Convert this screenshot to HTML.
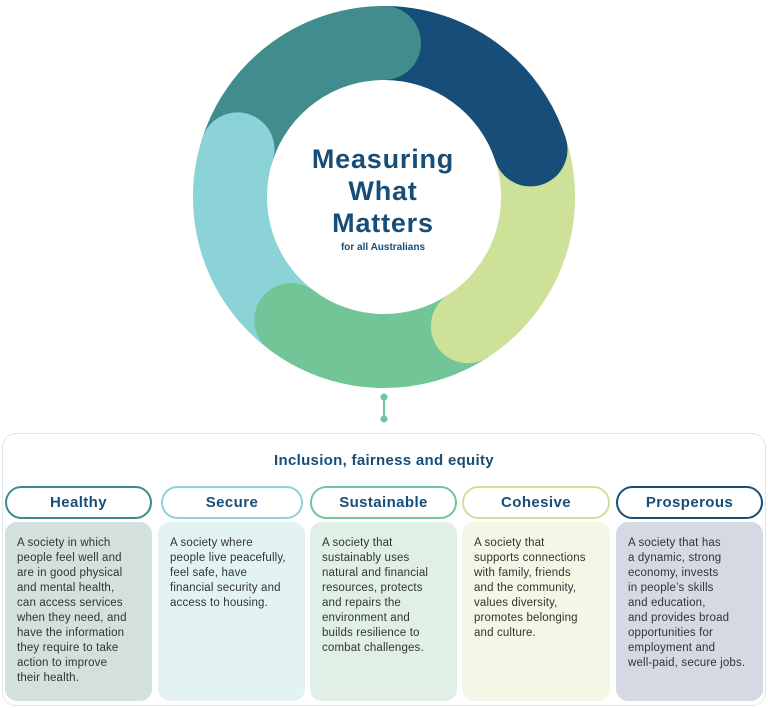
<!DOCTYPE html>
<html><head><meta charset="utf-8"><style>
*{margin:0;padding:0;box-sizing:border-box}
body{width:768px;height:708px;background:#fff;font-family:"Liberation Sans",sans-serif;position:relative;overflow:hidden}
.abs{position:absolute}
.container{left:2px;top:433px;width:764px;height:273px;border:1.5px solid #dde6ea;border-radius:14px}
.title{left:0;width:768px;top:452px;text-align:center;font-weight:bold;font-size:15px;color:#174E79;letter-spacing:0.3px}
.pill{top:486px;height:33px;border:2px solid;border-radius:17px;text-align:center;font-weight:bold;font-size:15px;color:#174E79;line-height:29px;background:#fff;letter-spacing:0.4px}
.box{top:522px;height:179px;border-radius:12px;padding:14px 0 0 12px;font-size:11.5px;line-height:15px;color:#333;white-space:nowrap;letter-spacing:0.15px}
</style></head><body>
<svg class="abs" style="left:0;top:0" width="768" height="430">
<g fill="none" stroke-width="74">
<path d="M237.5,149.4 A154,154 0 0 1 384,43" stroke="#418C8C"/>
<path d="M291.3,320 A154,154 0 0 1 237.5,149.4" stroke="#8BD3D6"/>
<path d="M467.9,326.2 A154,154 0 0 1 291.3,320" stroke="#72C597"/>
<path d="M530.5,149.4 A154,154 0 0 1 467.9,326.2" stroke="#CDE198"/>
<path d="M384,43 A154,154 0 0 1 530.5,149.4" stroke="#174E79"/>
</g>
<circle cx="237.5" cy="149.4" r="37" fill="#8BD3D6"/>
<circle cx="291.3" cy="320" r="37" fill="#72C597"/>
<circle cx="467.9" cy="326.2" r="37" fill="#CDE198"/>
<circle cx="530.5" cy="149.4" r="37" fill="#174E79"/>
<circle cx="384" cy="43" r="37" fill="#418C8C"/>
<line x1="384" y1="397" x2="384" y2="419" stroke="#72C597" stroke-width="2"/>
<circle cx="384" cy="397" r="3.5" fill="#72C597"/>
<circle cx="384" cy="419" r="3.5" fill="#72C597"/>
<g fill="#174E79" font-weight="bold" text-anchor="middle" font-family="Liberation Sans,sans-serif">
<text x="383" y="168" font-size="27" letter-spacing="0.8">Measuring</text>
<text x="383" y="200" font-size="27" letter-spacing="0.8">What</text>
<text x="383" y="232" font-size="27" letter-spacing="0.8">Matters</text>
<text x="383" y="250" font-size="10">for all Australians</text>
</g>
</svg>
<div class="abs container"></div>
<div class="abs title">Inclusion, fairness and equity</div>

<div class="abs pill" style="left:5px;width:147px;border-color:#3E8A88">Healthy</div>
<div class="abs pill" style="left:161px;width:142px;border-color:#8ED3D6">Secure</div>
<div class="abs pill" style="left:310px;width:147px;border-color:#72C597">Sustainable</div>
<div class="abs pill" style="left:462px;width:148px;border-color:#CDE198">Cohesive</div>
<div class="abs pill" style="left:616px;width:147px;border-color:#174E79">Prosperous</div>

<div class="abs box" style="left:5px;width:147px;background:#D3E0DE">A society in which<br>people feel well and<br>are in good physical<br>and mental health,<br>can access services<br>when they need, and<br>have the information<br>they require to take<br>action to improve<br>their health.</div>
<div class="abs box" style="left:158px;width:147px;background:#E3F3F2">A society where<br>people live peacefully,<br>feel safe, have<br>financial security and<br>access to housing.</div>
<div class="abs box" style="left:310px;width:147px;background:#E0F0E6">A society that<br>sustainably uses<br>natural and financial<br>resources, protects<br>and repairs the<br>environment and<br>builds resilience to<br>combat challenges.</div>
<div class="abs box" style="left:462px;width:148px;background:#F3F7E6">A society that<br>supports connections<br>with family, friends<br>and the community,<br>values diversity,<br>promotes belonging<br>and culture.</div>
<div class="abs box" style="left:616px;width:147px;background:#D5D9E3">A society that has<br>a dynamic, strong<br>economy, invests<br>in people’s skills<br>and education,<br>and provides broad<br>opportunities for<br>employment and<br>well-paid, secure jobs.</div>
</body></html>
